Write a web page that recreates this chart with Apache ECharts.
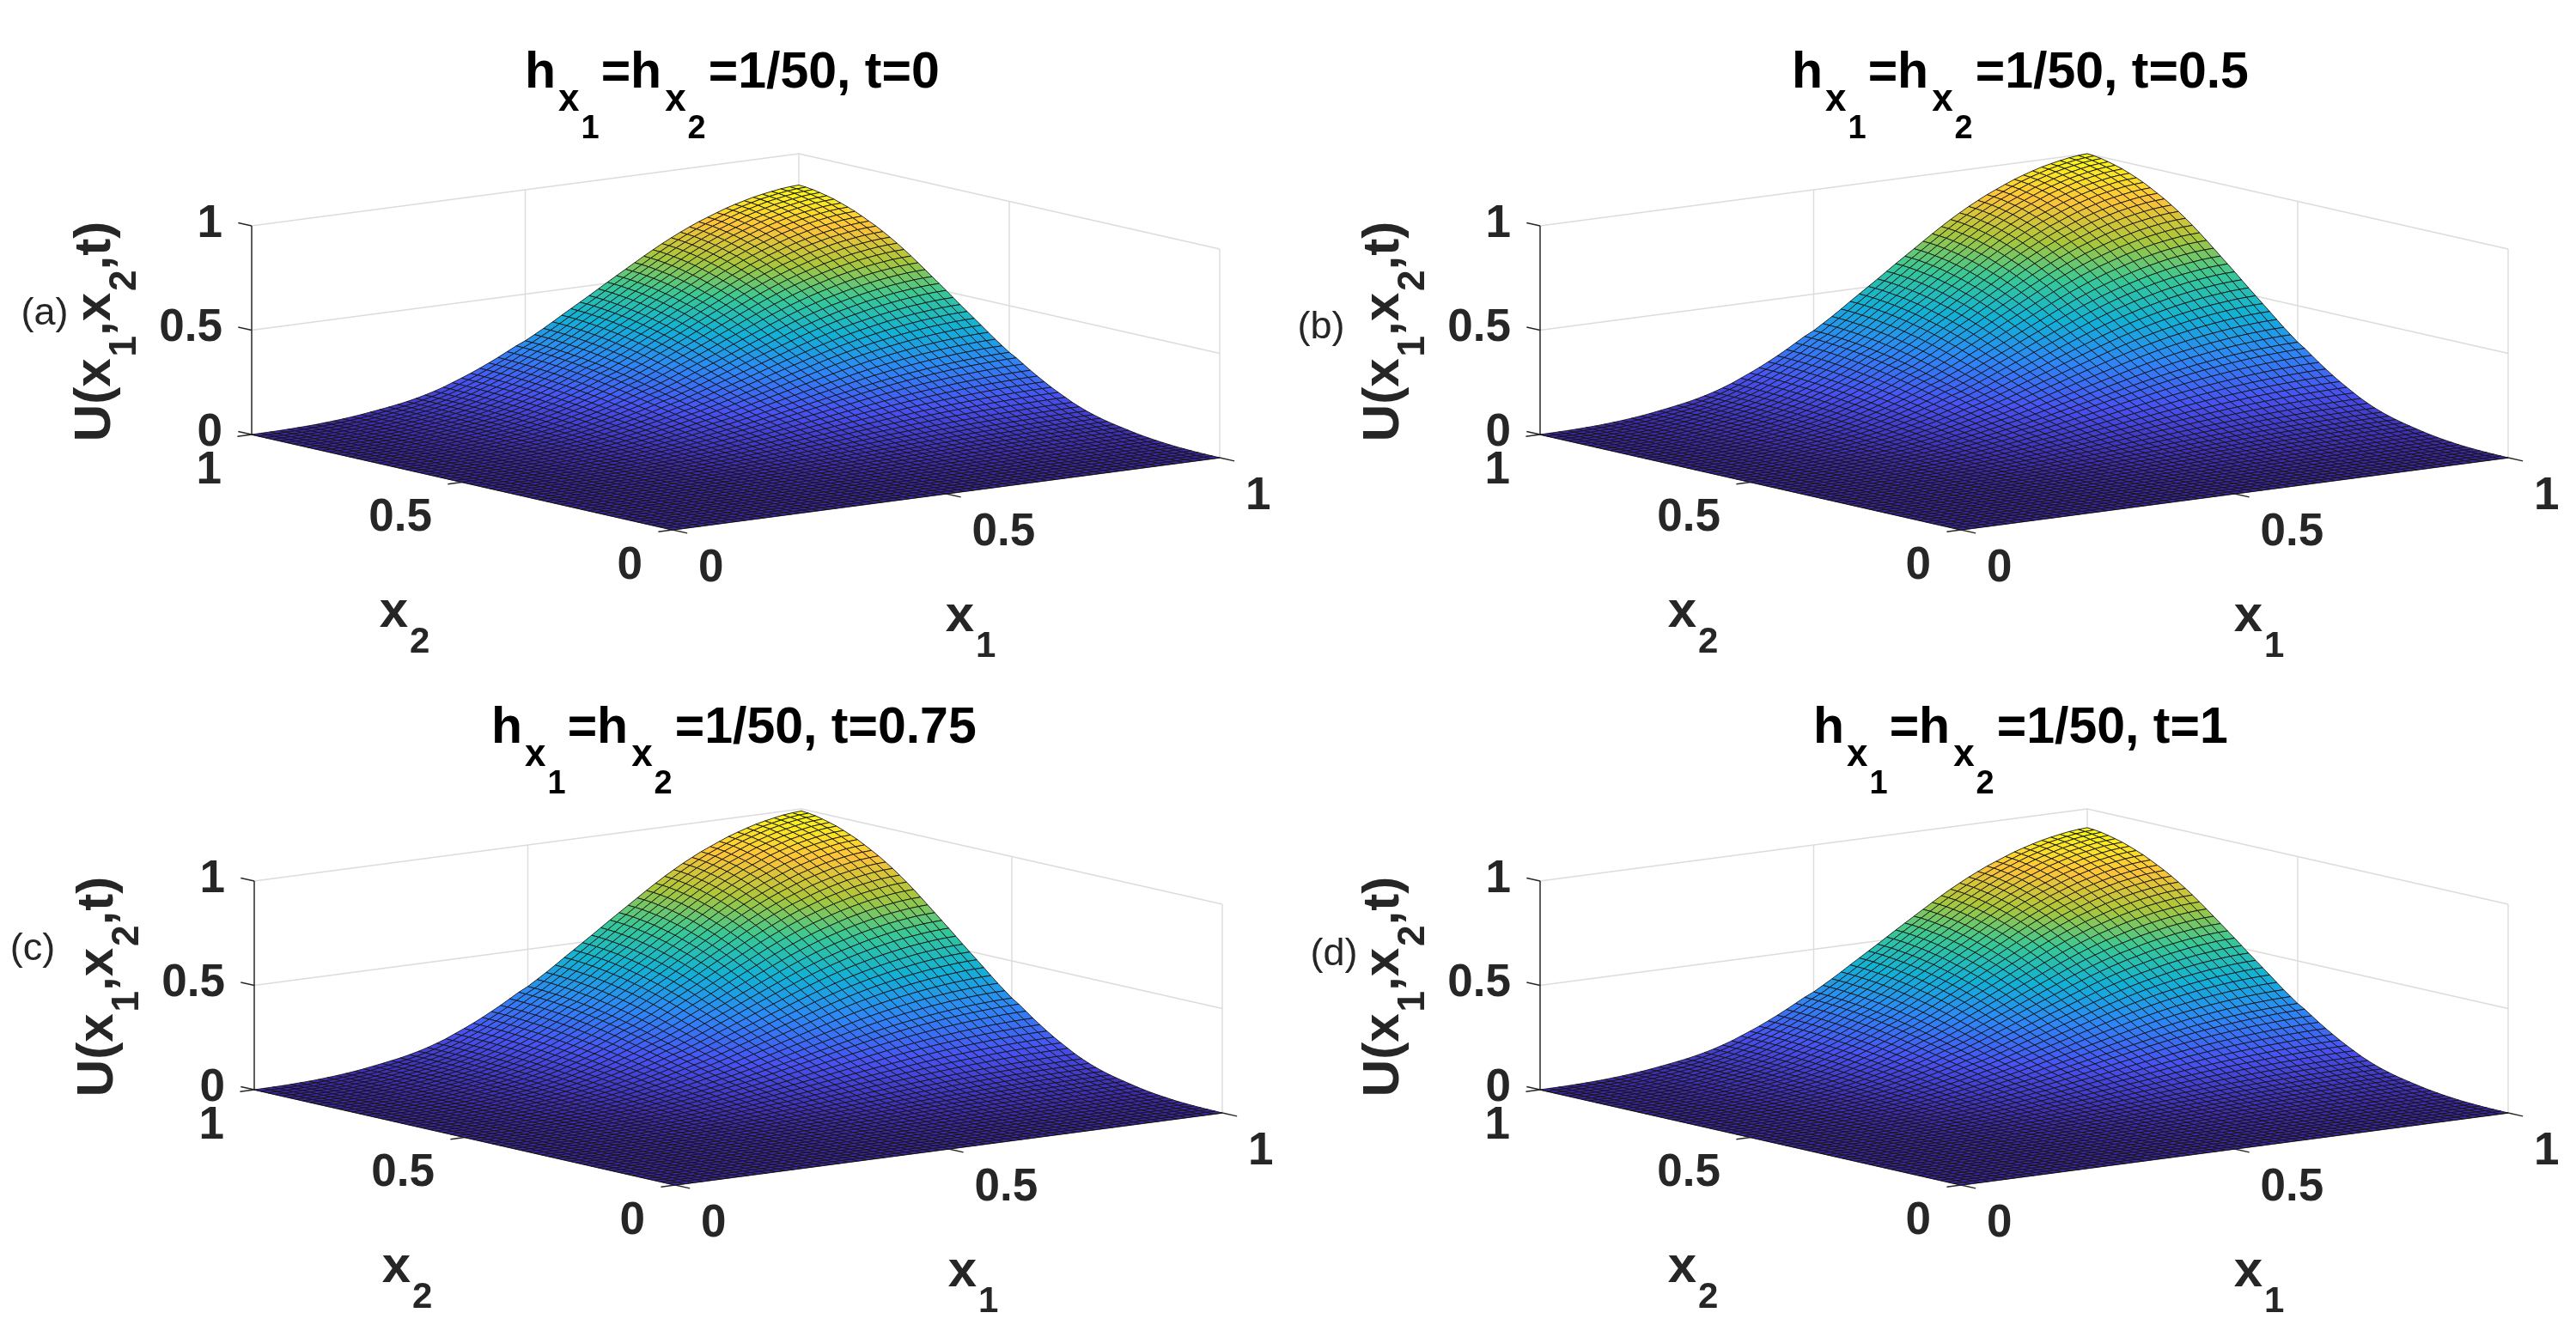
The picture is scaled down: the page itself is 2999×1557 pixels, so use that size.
<!DOCTYPE html>
<html><head><meta charset="utf-8">
<style>html,body{margin:0;padding:0;background:#fff}#c{width:2999px;height:1557px}</style>
<script src="https://cdn.jsdelivr.net/npm/echarts@6/dist/echarts.min.js"></script>
</head><body><div id="c"></div>
<script>
// Values. Only the edge profile and each panel's peak are read
// directly: interior nodes are modelled as peak * edgeProfile[i] * edgeProfile[j], because the
// picture's edge profiles have the same shape in all panels. They are not read node by node.
// The 60-cell mesh matches the density visible in the picture, not the title's "1/50".
const edgeProfile = [0,.0004,.0008,.0015,.0027,.0043,.006,.0085,.012,.0155,.02,.025,.031,.038,.045,.0525,.0605,.07,.081,.0935,.108,.124,.143,.162,.182,.204,.227,.251,.277,.303,.325,.353,.381,.411,.442,.472,.502,.532,.563,.594,.624,.654,.684,.714,.743,.771,.797,.822,.845,.867,.886,.905,.923,.938,.952,.965,.975,.984,.992,.997,1];
const peaks = [0.85, 1.0, 0.99, 0.91];
const timeLabels = ['0', '0.5', '0.75', '1'];
const panelTags = ['(a)', '(b)', '(c)', '(d)'];
const x1Ticks = [0, 0.5, 1];
const x2Ticks = [0, 0.5, 1];
const zTicks = [0, 0.5, 1];
const tickText = v => String(v);

// Layout only
const FONT = '"Liberation Sans", Arial, sans-serif';
const panelBox = [[293,179],[1793,179],[296,942],[1793,942]];
const titleBox = [[611,56],[2086,56],[572,819],[2111,819]];
const tagPos = [[52,366],[1538,382],[38,1106],[1553,1112]];
const PX1 = 637, PX2 = -490, QX1 = 84, QX2 = 111, QZ = 243;
const parula = [[.2422,.1504,.6603],[.281,.3228,.9579],[.1786,.5289,.9682],[.0689,.6948,.8394],[.2161,.7843,.5923],[.672,.7793,.2227],[.997,.7659,.2199],[.9769,.9839,.0805]];
const colorAt = t => {
  const s = Math.max(0, Math.min(1, t)) * (parula.length - 1), k = Math.min(parula.length - 2, Math.floor(s)), f = s - k;
  const c = parula[k].map((v, n) => Math.round(255 * (v + (parula[k + 1][n] - v) * f)));
  return `rgb(${c[0]},${c[1]},${c[2]})`;
};
const project = (a, b, z) => [a * PX1 + b * PX2, a * QX1 + b * QX2 + z * QZ];

const cells = [];
for (let i = edgeProfile.length - 2; i >= 0; i--) for (let j = edgeProfile.length - 2; j >= 0; j--) cells.push([i, j]);
const N = edgeProfile.length - 1;

const subRich = (F, S, drop, col) => ({
  m: {fontFamily: FONT, fontWeight: 'bold', fontSize: F, lineHeight: F + 4, verticalAlign: 'top', fill: col},
  s: {fontFamily: FONT, fontWeight: 'bold', fontSize: S, lineHeight: S + 4, verticalAlign: 'top', padding: [F * .3465 + (F + 4) / 2 - S * .3465 - (S + 4) / 2 + drop, 0, 0, 2], fill: col}
});

function surfaceRender(p) {
  return function (params, api) {
    const i = api.value(0), j = api.value(1), pk = peaks[p];
    const node = (a, b) => api.coord(project(a / N, b / N, pk * edgeProfile[a] * edgeProfile[b]));
    return {
      type: 'polygon',
      shape: {points: [node(i, j), node(i + 1, j), node(i + 1, j + 1), node(i, j + 1)]},
      style: {fill: colorAt(edgeProfile[i] * edgeProfile[j]), stroke: '#141414', lineWidth: 0.9, lineJoin: 'round'}
    };
  };
}

function frameRender(p) {
  return function (params, api) {
    const P = (a, b, z) => api.coord(project(a, b, z));
    const ch = [];
    const line = (A, B, col, w) => ch.push({type: 'line', shape: {x1: A[0], y1: A[1], x2: B[0], y2: B[1]}, style: {stroke: col, lineWidth: w}});
    const GR = '#dcdcdc', AX = '#262626';
    zTicks.forEach(z => { if (z > 0) { line(P(0, 1, z), P(1, 1, z), GR, 1.4); line(P(1, 1, z), P(1, 0, z), GR, 1.4); } });
    x1Ticks.forEach(a => { if (a > 0) line(P(a, 1, 0), P(a, 1, 1), GR, 1.4); });
    x2Ticks.forEach(b => { if (b < 1) line(P(1, b, 0), P(1, b, 1), GR, 1.4); });
    line(P(0, 1, 0), P(0, 1, 1), AX, 1.5);
    line(P(0, 0, 0), P(1, 0, 0), AX, 1.5);
    line(P(0, 0, 0), P(0, 1, 0), AX, 1.5);
    const tick = (F, G) => line(F, G, AX, 1.5);
    const label = (text, at, dx, dy, align) => ch.push({type: 'text', x: at[0] + dx, y: at[1] + dy,
      style: {text, font: `bold 53px ${FONT}`, fill: '#262626', align, verticalAlign: 'middle'}});
    zTicks.forEach(z => { tick(P(0, 1, z), P(0, 1.032, z)); label(tickText(z), P(0, 1, z), -34, -2, 'right'); });
    x1Ticks.forEach(a => { tick(P(a, 0, 0), P(a, -0.035, 0)); label(tickText(a), P(a, 0, 0), 30, 45, 'left'); });
    x2Ticks.forEach(b => { tick(P(0, b, 0), P(-0.026, b, 0)); label(tickText(b), P(0, b, 0), -35, 42, 'right'); });
    const o = P(0, 1, 0);
    const rich = subRich(60, 42, 29, '#262626');
    ch.push({type: 'text', x: o[0] + 178, y: o[1] + 177, style: {text: '{m|x}{s|2}', rich, align: 'center', verticalAlign: 'top'}});
    ch.push({type: 'text', x: o[0] + 837, y: o[1] + 182, style: {text: '{m|x}{s|1}', rich, align: 'center', verticalAlign: 'top'}});
    const rich2 = subRich(60, 44, 29, '#262626');
    ch.push({type: 'text', x: o[0] - 212, y: o[1] - 120, rotation: Math.PI / 2,
      style: {text: '{m|U(x}{s|1}{m|,x}{s|2}{m|,t)}', rich: rich2, align: 'center', verticalAlign: 'top'}});
    return {type: 'group', children: ch};
  };
}

const grid = [], xAxis = [], yAxis = [], series = [], title = [], graphic = [];
panelBox.forEach((b, p) => {
  grid.push({left: b[0], top: b[1], width: PX1 - PX2, height: QX1 + QX2 + QZ});
  xAxis.push({type: 'value', gridIndex: p, min: PX2, max: PX1, show: false});
  yAxis.push({type: 'value', gridIndex: p, min: 0, max: QX1 + QX2 + QZ, show: false});
  series.push({type: 'custom', xAxisIndex: p, yAxisIndex: p, data: [[0, 0]], encode: {x: 0, y: 1}, silent: true, clip: false, z: 1, animation: false, progressive: 0, renderItem: frameRender(p)});
  series.push({type: 'custom', xAxisIndex: p, yAxisIndex: p, data: cells, encode: {x: 0, y: 1}, silent: true, clip: false, z: 2, animation: false, progressive: 0, renderItem: surfaceRender(p)});
  const base = {fontFamily: FONT, fontWeight: 'bold', color: '#000', verticalAlign: 'top'};
  title.push({
    left: titleBox[p][0], top: titleBox[p][1], padding: 0,
    text: `{m|h}{s|x}{t|1}{e|=h}{s2|x}{t|2}{e2|=1/50, t=${timeLabels[p]}}`,
    textStyle: {rich: {
      m: {...base, fontSize: 59, lineHeight: 60},
      e: {...base, fontSize: 59, lineHeight: 60, padding: [0, 0, 0, 2]},
      e2: {...base, fontSize: 59, lineHeight: 60, padding: [0, 0, 0, 3]},
      s: {...base, fontSize: 44, lineHeight: 50, padding: [39, 0, 0, 3]},
      s2: {...base, fontSize: 44, lineHeight: 50, padding: [39, 0, 0, 4]},
      t: {...base, fontSize: 38, lineHeight: 40, padding: [76, 0, 0, 2]}
    }}
  });
  graphic.push({type: 'text', x: tagPos[p][0], y: tagPos[p][1], silent: true,
    style: {text: panelTags[p], font: `45px ${FONT}`, fill: '#262626', align: 'center', verticalAlign: 'middle'}});
});

const chart = echarts.init(document.getElementById('c'), null, {renderer: 'canvas'});
chart.setOption({backgroundColor: '#fff', animation: false, title, grid, xAxis, yAxis, series, graphic});
</script></body></html>
